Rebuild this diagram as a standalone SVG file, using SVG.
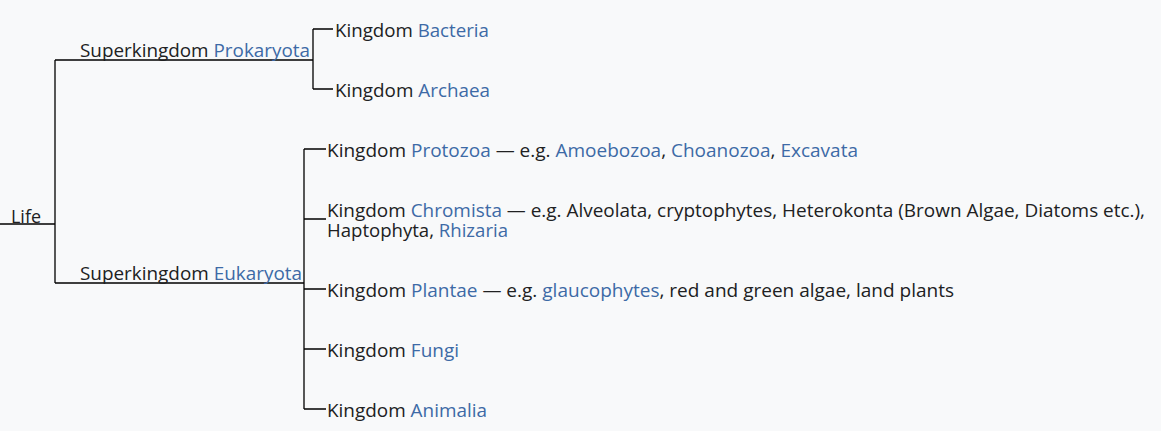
<svg xmlns="http://www.w3.org/2000/svg" width="1161" height="431" viewBox="0 0 1161 431">
<style>
text{font-family:"Open Sans","Noto Sans","Liberation Sans",sans-serif;font-size:18px;fill:#202122}
.b{fill:#3d6aa6}
.c{fill:none;stroke:#000;stroke-width:1.3}
</style>
<rect width="1161" height="431" fill="#f8f9fa"/>
<g id="connectors">
<path class="c" d="M0 224H55M55 60V283M55 60H313M55 283H304M313 29V89M313 29H333M313 89H333M304 149V409M304 149H326M304 219H326M304 289H326M304 349H326M304 409H326"/>
</g>
<g id="life"><text x="11" y="223" textLength="30" lengthAdjust="spacingAndGlyphs">Life</text></g>
<g id="prokaryota"><text x="80" y="57" textLength="230" lengthAdjust="spacingAndGlyphs">Superkingdom <tspan class="b">Prokaryota</tspan></text></g>
<g id="eukaryota"><text x="80" y="280" textLength="222" lengthAdjust="spacingAndGlyphs">Superkingdom <tspan class="b">Eukaryota</tspan></text></g>
<g id="bacteria"><text x="335" y="37" textLength="154" lengthAdjust="spacingAndGlyphs">Kingdom <tspan class="b">Bacteria</tspan></text></g>
<g id="archaea"><text x="335" y="97" textLength="155" lengthAdjust="spacingAndGlyphs">Kingdom <tspan class="b">Archaea</tspan></text></g>
<g id="protozoa"><text x="327" y="157" textLength="531" lengthAdjust="spacingAndGlyphs">Kingdom <tspan class="b">Protozoa</tspan> — e.g. <tspan class="b">Amoebozoa</tspan>, <tspan class="b">Choanozoa</tspan>, <tspan class="b">Excavata</tspan></text></g>
<g id="chromista">
<text><tspan x="327" y="217" textLength="818" lengthAdjust="spacingAndGlyphs">Kingdom <tspan class="b">Chromista</tspan> — e.g. Alveolata, cryptophytes, Heterokonta (Brown Algae, Diatoms etc.),</tspan><tspan x="327" y="237" textLength="181" lengthAdjust="spacingAndGlyphs">Haptophyta, <tspan class="b">Rhizaria</tspan></tspan></text>
</g>
<g id="plantae"><text x="327" y="297" textLength="627" lengthAdjust="spacingAndGlyphs">Kingdom <tspan class="b">Plantae</tspan> — e.g. <tspan class="b">glaucophytes</tspan>, red and green algae, land plants</text></g>
<g id="fungi"><text x="327" y="357" textLength="132" lengthAdjust="spacingAndGlyphs">Kingdom <tspan class="b">Fungi</tspan></text></g>
<g id="animalia"><text x="327" y="417" textLength="160" lengthAdjust="spacingAndGlyphs">Kingdom <tspan class="b">Animalia</tspan></text></g>
</svg>
